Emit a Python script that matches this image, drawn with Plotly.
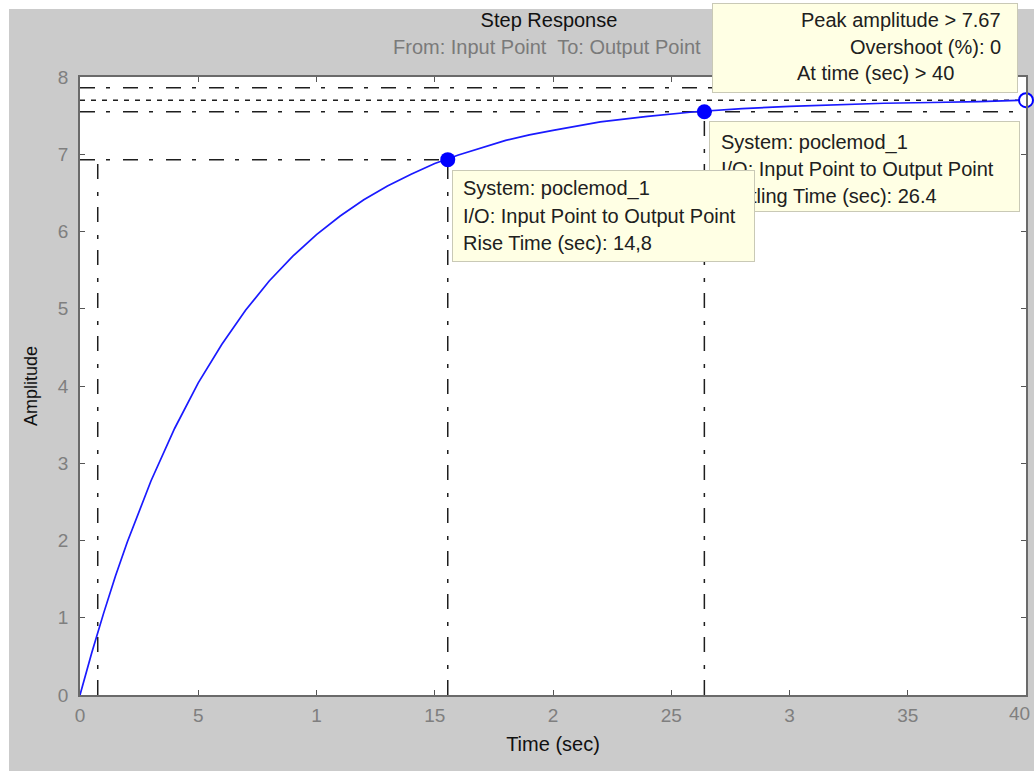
import plotly.graph_objects as go

# ---------------- data ----------------
time_s = [0, 0.5, 1, 1.5, 2, 3, 4, 5, 6, 7, 8, 9, 10, 11, 12, 13, 14, 15, 16, 17,
          18, 19, 20, 22, 24, 26, 28, 30, 32, 34, 36, 38, 40]
amplitude = [0, 0.55, 1.06, 1.54, 1.98, 2.77, 3.45, 4.04, 4.54, 4.98, 5.36, 5.68, 5.96,
             6.20, 6.41, 6.59, 6.74, 6.88, 6.99, 7.09, 7.18, 7.25, 7.31, 7.42, 7.49,
             7.55, 7.59, 7.62, 7.64, 7.66, 7.67, 7.68, 7.70]

final_value = 7.70
settle_band = [7.55, 7.86]
rise_level = 6.93
rise_start = 0.75
rise_end = 15.55
settling_time = 26.4
settling_level = 7.55
peak_time = 40
peak_value = 7.70

x_tickvals = [0, 5, 10, 15, 20, 25, 30, 35, 40]
x_ticktext = ["0", "5", "1", "15", "2", "25", "3", "35", "40"]
y_tickvals = [0, 1, 2, 3, 4, 5, 6, 7, 8]

peak_lines = ["Peak amplitude > 7.67", "Overshoot (%): 0", "At time (sec) > 40"]
settle_lines = ["System: poclemod_1", "I/O: Input Point to Output Point",
                "Settling Time (sec): 26.4"]
rise_lines = ["System: poclemod_1", "I/O: Input Point to Output Point",
              "Rise Time (sec): 14,8"]

# ---------------- layout geometry ----------------
W, H = 1034, 771
L, R, T, B = 80, 8, 77, 76
PW, PH = W - L - R, H - T - B
FONT = "Arial, Liberation Sans, sans-serif"
DASHDOT = "15px,11px,4px,13px"
DOTTED = "5px,6px"
LINE_COL = "#1e1e1e"


def px(x):
    return (x - L) / PW


def py(y):
    return (H - B - y) / PH


fig = go.Figure()

# characteristic lines
def add_line(xs, ys, dash):
    fig.add_trace(go.Scatter(x=xs, y=ys, mode="lines", showlegend=False, hoverinfo="skip",
                             line=dict(color=LINE_COL, width=1.5, dash=dash)))

add_line([0, 40], [settle_band[1]] * 2, DASHDOT)
add_line([0, 40], [final_value] * 2, DOTTED)
add_line([0, 40], [settle_band[0]] * 2, DASHDOT)
add_line([0, rise_end], [rise_level] * 2, DASHDOT)
add_line([rise_start] * 2, [0, rise_level], DASHDOT)
add_line([rise_end] * 2, [0, rise_level], DASHDOT)
add_line([settling_time] * 2, [0, settling_level], DASHDOT)

# response curve
fig.add_trace(go.Scatter(x=time_s, y=amplitude, mode="lines", showlegend=False,
                         line=dict(color="#1a1aff", width=1.7)))

# characteristic points
fig.add_trace(go.Scatter(x=[rise_end, settling_time], y=[rise_level, settling_level],
                         mode="markers", showlegend=False, cliponaxis=False,
                         marker=dict(color="#0000ff", size=15, line=dict(width=0))))
fig.add_trace(go.Scatter(x=[peak_time], y=[peak_value], mode="markers", showlegend=False,
                         cliponaxis=False,
                         marker=dict(color="white", size=14,
                                     line=dict(color="#0000ff", width=2))))

annotations = []


def box(left, top, right, bottom):
    annotations.append(dict(
        xref="paper", yref="paper", x=px(left), y=py(top), xanchor="left", yanchor="top",
        text="\u00a0", showarrow=False, width=right - left - 2, height=bottom - top - 2,
        bgcolor="#ffffe4", bordercolor="#c9c9b6", borderwidth=1, borderpad=0,
        font=dict(size=8)))


def line_text(txt, x, y, anchor):
    annotations.append(dict(
        xref="paper", yref="paper", x=px(x), y=py(y), xanchor=anchor, yanchor="middle",
        text=txt, showarrow=False, font=dict(family=FONT, size=20, color="#202020")))


# peak box
box(712, 3, 1018, 93)
line_text(peak_lines[0], 1003, 20, "right")
line_text(peak_lines[1], 1003, 47, "right")
line_text(peak_lines[2], 956, 73, "right")
# settling box
box(709, 121, 1020, 212)
for i, t in enumerate(settle_lines):
    line_text(t, 719, 142 + 27 * i, "left")
# rise box (drawn on top)
box(452, 170, 755, 262)
for i, t in enumerate(rise_lines):
    line_text(t, 461, 189 + 27 * i, "left")

# subtitle
annotations.append(dict(xref="paper", yref="paper", x=px(547), y=py(47), xanchor="center",
                        yanchor="middle", showarrow=False,
                        text="From: Input Point  To: Output Point",
                        font=dict(family=FONT, size=20, color="#7a7a7a")))

# last x tick label, pulled inside the page edge as in the reference
shown_ticktext = x_ticktext[:-1] + [""]
annotations.append(dict(xref="paper", yref="paper", x=px(1032), y=py(713), xanchor="right",
                        yanchor="middle", showarrow=False, text=x_ticktext[-1],
                        font=dict(family=FONT, size=19, color="#7f7f7f")))

shapes = [
    dict(type="rect", xref="paper", yref="paper", x0=px(-5), x1=px(9), y0=py(H + 5), y1=py(-5),
         fillcolor="white", line=dict(width=0), layer="above"),
    dict(type="rect", xref="paper", yref="paper", x0=px(-5), x1=px(W + 5), y0=py(9), y1=py(-5),
         fillcolor="white", line=dict(width=0), layer="above"),
]

fig.update_layout(
    width=W, height=H,
    margin=dict(l=L, r=R, t=T, b=B, pad=0),
    paper_bgcolor="#cbcbcb", plot_bgcolor="white",
    font=dict(family=FONT),
    title=dict(text="Step Response", x=549 / W, y=1 - 20 / H, xref="container",
               yref="container", xanchor="center", yanchor="middle",
               font=dict(family=FONT, size=20, color="#111111")),
    shapes=shapes,
    annotations=annotations,
    xaxis=dict(range=[0, 40], tickvals=x_tickvals, ticktext=shown_ticktext, ticks="inside",
               ticklen=5, tickcolor="#555555", showline=True, linecolor="#6a6a6a", linewidth=1.5,
               mirror="ticks", showgrid=False, zeroline=False, automargin=False,
               ticklabeloverflow="allow",
               tickfont=dict(family=FONT, size=19, color="#7f7f7f"), ticklabelstandoff=2,
               title=dict(text="Time (sec)", standoff=12,
                          font=dict(family=FONT, size=20, color="#111111"))),
    yaxis=dict(range=[0, 8], tickvals=y_tickvals, ticks="inside",
               ticklen=5, tickcolor="#555555", showline=True, linecolor="#6a6a6a", linewidth=1.5,
               mirror="ticks", showgrid=False, zeroline=False, automargin=False,
               ticklabeloverflow="allow",
               tickfont=dict(family=FONT, size=19, color="#7f7f7f"), ticklabelstandoff=6,
               title=dict(text="Amplitude", standoff=16,
                          font=dict(family=FONT, size=18, color="#111111"))),
)

fig.write_html("out.html")
